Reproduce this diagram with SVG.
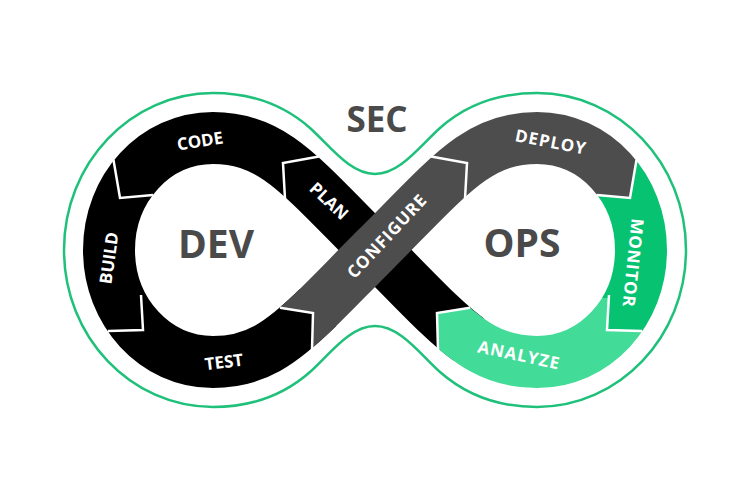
<svg xmlns="http://www.w3.org/2000/svg" width="750" height="500" viewBox="0 0 750 500">
<style>
.big{font-family:"Open Sans","Liberation Sans",sans-serif;font-weight:700;fill:#4a4a4a;text-anchor:middle}
.lbl{font-family:"Open Sans","Liberation Sans",sans-serif;font-weight:700;fill:#ffffff;font-size:17px;text-anchor:middle}
.cut{fill:none;stroke:#ffffff;stroke-width:2.5;stroke-linejoin:miter}
</style>
<defs>
<mask id="m2" maskUnits="userSpaceOnUse" x="0" y="0" width="750" height="500">
<path d="M213,362 C273,362 300,325 375,250 C450,175 477,138 537,138 C595,138 641,188 641,250 C641,312 595,362 537,362 C495,362 469.2,343.9 431.7,307.9" fill="none" stroke="#fff" stroke-width="52"/>
</mask>
</defs>
<rect width="750" height="500" fill="#ffffff"/>
<g id="outline">
<path d="M375,174 C350,174 330,146 310,128 C285,106 255,93 213,93 C131,93 64,163 64,250 C64,337 131,407 213,407 C255,407 285,394 310,372 C330,354 350,326 375,326 C400,326 420,354 440,372 C465,394 495,407 537,407 C619,407 686,337 686,250 C686,163 619,93 537,93 C495,93 465,106 440,128 C420,146 400,174 375,174 Z" fill="none" stroke="#1fc17a" stroke-width="2.5"/>
</g>
<g id="band">
<path id="strand-dev" d="M468.65,339.43 C442.96,321 416.25,291.25 375,250 C300,175 273,138 213,138 C155,138 109,188 109,250 C109,312 155,362 213,362 C255,362 280.83,343.87 318.27,307.27" fill="none" stroke="#000000" stroke-width="52"/>
<g mask="url(#m2)">
<polygon id="piece-gray" fill="#4d4d4d" points="312,368 312,347 313,313 282,308 262,305 330,180 420,100 640,100 637,145 636,163 630,198 600,195 580,193 537,250 470,250 400,300 340,380"/>
<polygon id="piece-monitor" fill="#07c271" points="700,110 640,110 637,145 636,163 630,198 600,195 580,193 537,250 595,298 609,298 607,330 639,331 660,333 710,335"/>
<polygon id="piece-analyze" fill="#42db98" points="710,335 660,333 639,331 607,330 609,298 595,298 537,250 490,300 468,308 437,313 438,347 440,372 540,425 710,420"/>
</g>
</g>
<g id="connectors">
<polyline class="cut" points="319,156.6 283,163 285,199"/>
<polyline class="cut" points="113.5,160 120,198 153,195"/>
<polyline class="cut" points="141,295 143,330 108,331"/>
<polyline class="cut" points="280,307.7 313,313 312,350"/>
<polyline class="cut" points="431,156.6 467,163 465,199"/>
<polyline class="cut" points="636.5,160 630,198 597,195"/>
<polyline class="cut" points="609,295 607,330 642,331"/>
<polyline class="cut" points="470,307.7 437,313 438,350"/>
</g>
<g id="sec"><text class="big" x="377" y="132" font-size="35">SEC</text></g>
<g id="dev"><text class="big" x="216" y="258" font-size="39">DEV</text></g>
<g id="ops"><text class="big" x="522" y="257" font-size="39">OPS</text></g>
<g id="plan"><text class="lbl" transform="translate(329,201) rotate(43)" y="6">PLAN</text></g>
<g id="code"><text class="lbl" transform="translate(200,141) rotate(-9)" y="6">CODE</text></g>
<g id="build"><text class="lbl" transform="translate(109,258) rotate(-82)" y="6">BUILD</text></g>
<g id="test"><text class="lbl" transform="translate(224,362) rotate(-7)" y="6">TEST</text></g>
<g id="configure"><text class="lbl" transform="translate(387,236) rotate(-47)" y="6" letter-spacing="1">CONFIGURE</text></g>
<g id="deploy"><text class="lbl" transform="translate(551,142) rotate(11)" y="6" letter-spacing="1">DEPLOY</text></g>
<g id="monitor"><text class="lbl" transform="translate(633,263) rotate(96)" y="6" letter-spacing="0.8">MONITOR</text></g>
<g id="analyze"><text class="lbl" transform="translate(519,355) rotate(12)" y="6" letter-spacing="1">ANALYZE</text></g>
</svg>
